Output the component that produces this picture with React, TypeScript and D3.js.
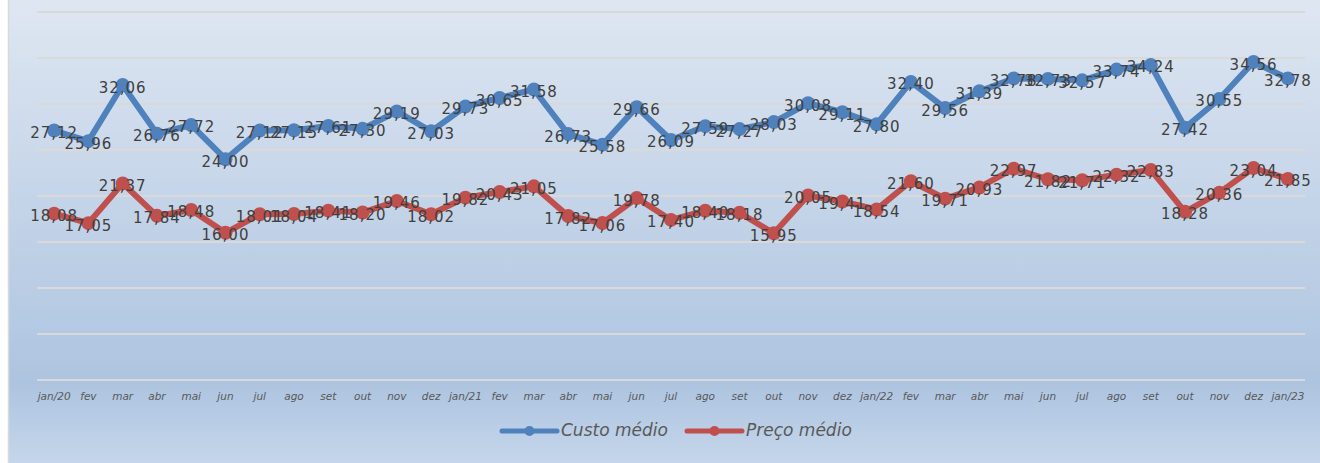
import * as d3 from "d3";
import React, { useRef, useEffect } from "react";

const months = [
  "jan/20", "fev", "mar", "abr", "mai", "jun", "jul", "ago", "set", "out", "nov", "dez",
  "jan/21", "fev", "mar", "abr", "mai", "jun", "jul", "ago", "set", "out", "nov", "dez",
  "jan/22", "fev", "mar", "abr", "mai", "jun", "jul", "ago", "set", "out", "nov", "dez",
  "jan/23",
];

const custoMedio = [
  27.12, 25.96, 32.06, 26.76, 27.72, 24.0, 27.12, 27.15, 27.61, 27.3, 29.19, 27.03,
  29.73, 30.65, 31.58, 26.73, 25.58, 29.66, 26.09, 27.59, 27.27, 28.03, 30.08, 29.11,
  27.8, 32.4, 29.56, 31.39, 32.78, 32.73, 32.57, 33.74, 34.24, 27.42, 30.55, 34.56,
  32.78,
];

const precoMedio = [
  18.08, 17.05, 21.37, 17.84, 18.48, 16.0, 18.01, 18.04, 18.41, 18.2, 19.46, 18.02,
  19.82, 20.43, 21.05, 17.82, 17.06, 19.78, 17.4, 18.4, 18.18, 15.95, 20.05, 19.41,
  18.54, 21.6, 19.71, 20.93, 22.97, 21.82, 21.71, 22.32, 22.83, 18.28, 20.36, 23.04,
  21.85,
];

const seriesNames = ["Custo médio", "Preço médio"];
const yTicks = [0, 5, 10, 15, 20, 25, 30, 35, 40];

const width = 1320;
const height = 463;
const colors = ["#4f81bd", "#c0504d"];

function App() {
  const ref = useRef<SVGSVGElement>(null);

  useEffect(() => {
    const svg = d3.select(ref.current);
    svg.selectAll("*").remove();

    const defs = svg.append("defs");
    const grad = defs
      .append("linearGradient")
      .attr("id", "bg")
      .attr("x1", 0)
      .attr("y1", 0)
      .attr("x2", 0)
      .attr("y2", 1);
    grad.append("stop").attr("offset", "0%").attr("stop-color", "#dfe7f2");
    grad.append("stop").attr("offset", "82%").attr("stop-color", "#adc4e0");
    grad.append("stop").attr("offset", "100%").attr("stop-color", "#c6d7eb");

    svg
      .append("rect")
      .attr("x", 8.5)
      .attr("y", -5)
      .attr("width", width + 10)
      .attr("height", height + 10)
      .attr("fill", "url(#bg)")
      .attr("stroke", "#d9d9d9")
      .attr("stroke-width", 1.5);

    const x = d3
      .scaleBand<number>()
      .domain(d3.range(months.length))
      .range([37, 1305]);
    const y = d3.scaleLinear().domain([0, 40]).range([380, 12]);
    const cx = (i: number) => (x(i) as number) + x.bandwidth() / 2;

    // gridlines
    svg
      .append("g")
      .selectAll("line")
      .data(yTicks)
      .enter()
      .append("line")
      .attr("x1", 37)
      .attr("x2", 1305)
      .attr("y1", (d) => y(d))
      .attr("y2", (d) => y(d))
      .attr("stroke", "#d9d9d9")
      .attr("stroke-width", 2);

    // x axis labels
    svg
      .append("g")
      .selectAll("text")
      .data(months)
      .enter()
      .append("text")
      .attr("x", (d, i) => cx(i))
      .attr("y", 397)
      .attr("text-anchor", "middle")
      .attr("dominant-baseline", "middle")
      .attr("font-family", "DejaVu Sans")
      .attr("font-style", "italic")
      .attr("font-size", 10.5)
      .attr("fill", "#595959")
      .text((d) => d);

    const allSeries = [custoMedio, precoMedio];
    const line = d3
      .line<number>()
      .x((d, i) => cx(i))
      .y((d) => y(d));

    allSeries.forEach((vals, s) => {
      const g = svg.append("g");
      g.append("path")
        .attr("d", line(vals))
        .attr("fill", "none")
        .attr("stroke", colors[s])
        .attr("stroke-width", 6)
        .attr("stroke-linejoin", "round")
        .attr("stroke-linecap", "round");
      g.selectAll("circle")
        .data(vals)
        .enter()
        .append("circle")
        .attr("cx", (d, i) => cx(i))
        .attr("cy", (d) => y(d))
        .attr("r", 7)
        .attr("fill", colors[s]);
    });

    // data labels, centered on the points
    allSeries.forEach((vals) => {
      svg
        .append("g")
        .selectAll("text")
        .data(vals)
        .enter()
        .append("text")
        .attr("x", (d, i) => cx(i))
        .attr("y", (d) => y(d) + 3)
        .attr("text-anchor", "middle")
        .attr("dominant-baseline", "middle")
        .attr("font-family", "DejaVu Sans")
        .attr("font-size", 15)
        .attr("letter-spacing", 1)
        .attr("fill", "#404040")
        .text((d) => d3.format(".2f")(d).replace(".", ","));
    });

    // legend
    const legendX = [502, 687];
    seriesNames.forEach((name, s) => {
      const lg = svg.append("g").attr("transform", `translate(${legendX[s]}, 431)`);
      lg.append("line")
        .attr("x1", 0)
        .attr("x2", 55)
        .attr("stroke", colors[s])
        .attr("stroke-width", 5)
        .attr("stroke-linecap", "round");
      lg.append("circle").attr("cx", 27.5).attr("r", 5).attr("fill", colors[s]);
      lg.append("text")
        .attr("x", 59)
        .attr("y", 0)
        .attr("dominant-baseline", "middle")
        .attr("font-family", "DejaVu Sans")
        .attr("font-style", "italic")
        .attr("font-size", 17)
        .attr("fill", "#595959")
        .text(name);
    });
  }, []);

  return (
    <svg
      ref={ref}
      width={width}
      height={height}
      style={{ position: "absolute", left: 0, top: 0, display: "block" }}
    ></svg>
  );
}

export default App;
